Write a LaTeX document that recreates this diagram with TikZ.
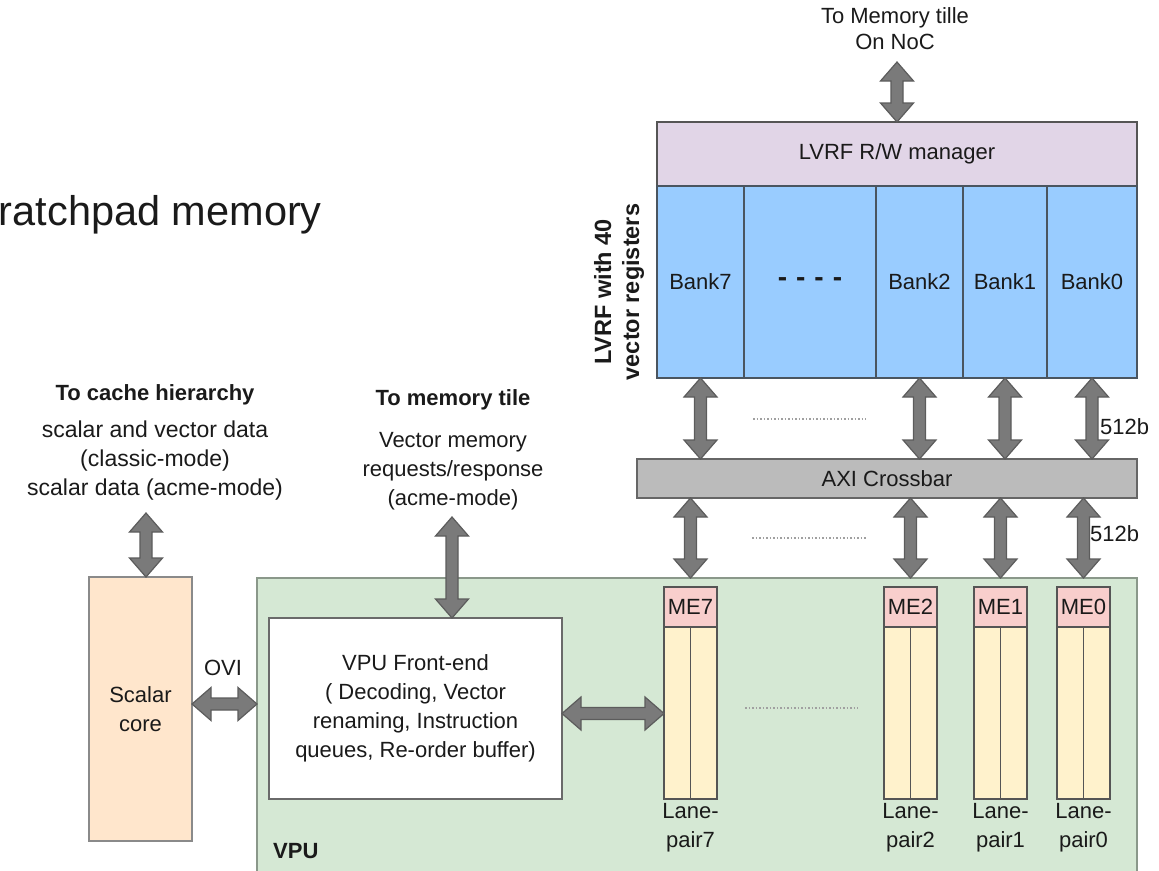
\documentclass[tikz,border=0pt]{standalone}
\usepackage{fontspec}
\setmainfont{Liberation Sans}
\usetikzlibrary{calc}
\newcommand\setfs[2]{\fontsize{#1}{#2}\selectfont}
\newcommand\arrHL{19pt}
\newcommand\arrHW{16.5pt}
\newcommand\arrSW{6pt}
\newcommand{\fatarrow}[2]{%
  \filldraw[fatarrow]
    (#1)
    -- ($(#1)!\arrHL!(#2)!\arrHW!90:(#2)$)
    -- ($(#1)!\arrHL!(#2)!\arrSW!90:(#2)$)
    -- ($(#2)!\arrHL!(#1)!\arrSW!-90:(#1)$)
    -- ($(#2)!\arrHL!(#1)!\arrHW!-90:(#1)$)
    -- (#2)
    -- ($(#2)!\arrHL!(#1)!\arrHW!90:(#1)$)
    -- ($(#2)!\arrHL!(#1)!\arrSW!90:(#1)$)
    -- ($(#1)!\arrHL!(#2)!\arrSW!-90:(#2)$)
    -- ($(#1)!\arrHL!(#2)!\arrHW!-90:(#2)$)
    -- cycle;}
\definecolor{txt}{HTML}{1A1A1A}
\definecolor{boxline}{HTML}{555555}
\definecolor{mgrfill}{HTML}{E1D5E7}
\definecolor{bankfill}{HTML}{99CCFF}
\definecolor{bankline}{HTML}{4A5560}
\definecolor{axifill}{HTML}{BBBBBB}
\definecolor{axiline}{HTML}{666666}
\definecolor{vpufill}{HTML}{D5E8D4}
\definecolor{vpuline}{HTML}{8A988A}
\definecolor{corefill}{HTML}{FFE6CC}
\definecolor{coreline}{HTML}{8A8A8A}
\definecolor{feline}{HTML}{6A6A6A}
\definecolor{mefill}{HTML}{F8CECC}
\definecolor{lanefill}{HTML}{FFF2CC}
\definecolor{meline}{HTML}{555555}
\definecolor{arrfill}{HTML}{7A7A7A}
\definecolor{arrline}{HTML}{5C5C5C}
\definecolor{dotc}{HTML}{A0A0A0}
\tikzset{
  box/.style={draw=boxline, line width=1.5pt, inner sep=0pt, outer sep=0pt,
    anchor=north west, align=center, font=\setfs{22}{29}, text=txt},
  lbl/.style={inner sep=0pt, align=center, font=\setfs{22}{29}, text=txt},
  fatarrow/.style={fill=arrfill, draw=arrline, line width=1.2pt, line join=miter},
  dots/.style={draw=dotc, line width=1.5pt, dash pattern=on 1.5pt off 2pt},
}
\begin{document}
\begin{tikzpicture}[x=1pt,y=-1pt]
\useasboundingbox (0,0) rectangle (1159,870);

% title fragment
\node[lbl, font=\setfs{41.5}{48}, anchor=east] (scratch) at (322,215) {ratchpad memory};

% LVRF manager and banks
\node[box, fill=mgrfill, minimum width=480pt, minimum height=64pt] (mgr) at (657,122) {LVRF R/W manager};
\node[box, fill=bankfill, draw=bankline, minimum width=87pt, minimum height=192pt] (bank7) at (657,186) {Bank7};
\node[box, fill=bankfill, draw=bankline, minimum width=132pt, minimum height=192pt] (bankdots) at (744,186) {\bfseries\setfs{28}{30}\spaceskip=9pt - - - -};
\node[box, fill=bankfill, draw=bankline, minimum width=87pt, minimum height=192pt] (bank2) at (876,186) {Bank2};
\node[box, fill=bankfill, draw=bankline, minimum width=84pt, minimum height=192pt] (bank1) at (963,186) {Bank1};
\node[box, fill=bankfill, draw=bankline, minimum width=90pt, minimum height=192pt] (bank0) at (1047,186) {Bank0};
\node[lbl, font=\bfseries\setfs{23.5}{28}, rotate=90] (lvrflbl) at (619,292) {LVRF with 40\\vector registers};

% top label and arrow
\node[lbl, font=\setfs{22}{26}] (noc) at (895,29) {To Memory tille\\On NoC};
\coordinate (noctip) at ($(mgr.north)+(0,-60)$);
\fatarrow{noctip}{mgr.north}

% crossbar
\node[box, fill=axifill, draw=axiline, minimum width=500pt, minimum height=39pt] (axi) at (637,459) {AXI Crossbar};

% VPU
\node[box, fill=vpufill, draw=vpuline, minimum width=880pt, minimum height=294pt] (vpu) at (257,578) {};
\node[lbl, font=\bfseries\setfs{22}{28}, anchor=west] (vpulbl) at (273,851) {VPU};

% scalar core
\node[box, fill=corefill, draw=coreline, minimum width=103pt, minimum height=264pt] (core) at (89,577) {Scalar\\core};

% front-end
\node[box, fill=white, draw=feline, minimum width=293pt, minimum height=181pt] (fe) at (269,618) {VPU Front-end\\( Decoding, Vector\\renaming, Instruction\\queues, Re-order buffer)};

% MEs and lane pairs
\foreach \n/\x in {7/664, 2/884, 1/974, 0/1057} {
  \node[box, fill=mefill, draw=meline, minimum width=53pt, minimum height=40pt] (me\n) at (\x,587) {ME\n};
  \node[box, fill=lanefill, draw=meline, minimum width=53pt, minimum height=172pt] (lane\n) at (\x,627) {};
  \draw[draw=meline, line width=1.5pt] (lane\n.north) -- (lane\n.south);
  \node[lbl] (lanelbl\n) at ($(lane\n.south)+(0,29)$) {Lane-\\pair\n};
}

% bank <-> crossbar arrows
\foreach \b in {bank7, bank2, bank1, bank0} {
  \coordinate (\b x) at (\b.south |- axi.north);
  \fatarrow{\b.south}{\b x}
}
% crossbar <-> ME arrows
\foreach \n in {7,2,1,0} {
  \coordinate (lt\n) at (me\n.north |- axi.south);
  \coordinate (lb\n) at (me\n.north |- vpu.north);
  \fatarrow{lt\n}{lb\n}
}
\node[lbl, anchor=west] (w512a) at (1100,427) {512b};
\node[lbl, anchor=west] (w512b) at (1090,534) {512b};

% dotted fillers
\draw[dots] (753,419) -- (866,419);
\draw[dots] (752,538) -- (866,538);
\draw[dots] (745,708) -- (858,708);

% left texts and arrows
\node[lbl, font=\bfseries\setfs{22}{28}] (cachehdr) at (155,395) {To cache hierarchy};
\node[lbl, font=\setfs{23}{29}] (cachetxt) at (155,461) {scalar and vector data\\(classic-mode)\\scalar data (acme-mode)};
\coordinate (cachetip) at (146,513);
\coordinate (corein) at (cachetip |- core.north);
\fatarrow{cachetip}{corein}

\node[lbl, font=\bfseries\setfs{22}{28}] (memhdr) at (453,400) {To memory tile};
\node[lbl] (memtxt) at (453,471) {Vector memory\\requests/response\\(acme-mode)};
\coordinate (memtip) at (452,517);
\coordinate (fein) at (memtip |- fe.north);
\fatarrow{memtip}{fein}

% OVI
\node[lbl] (ovi) at (223,668) {OVI};
\coordinate (ovil) at ($(core.east)+(0,-5)$);
\coordinate (ovir) at (ovil -| vpu.west);
\fatarrow{ovil}{ovir}

% front-end <-> lane pair 7
\coordinate (fel) at ($(fe.east)+(0,5)$);
\coordinate (fer) at (fel -| lane7.west);
\fatarrow{fel}{fer}
\end{tikzpicture}
\end{document}
